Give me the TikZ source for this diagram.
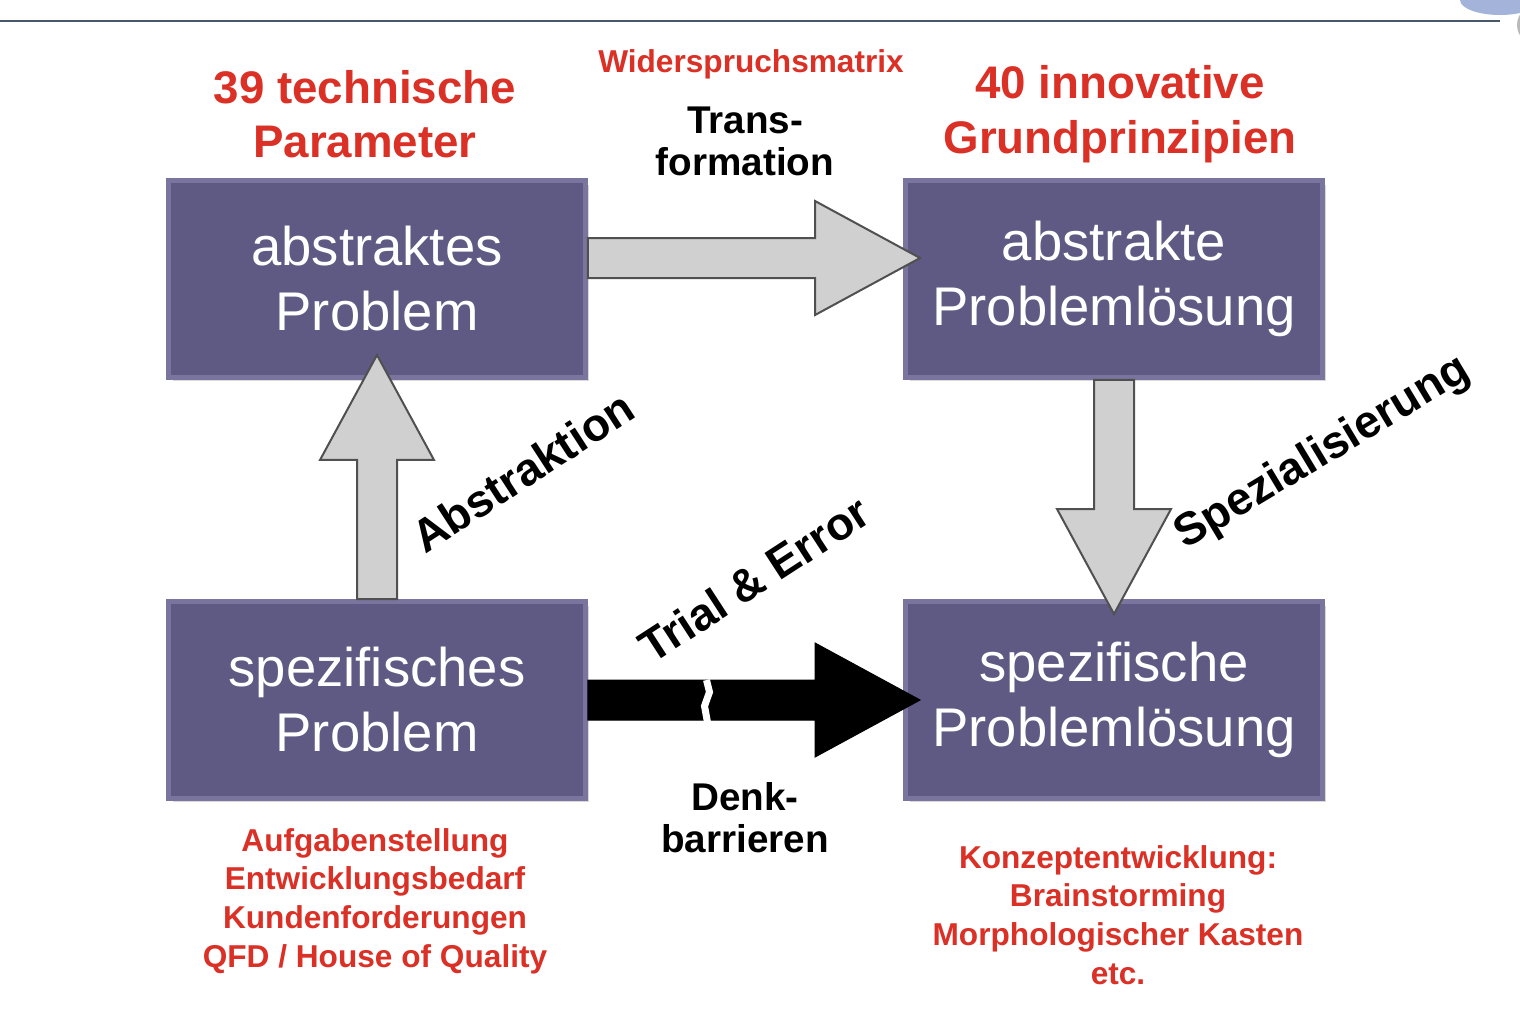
\documentclass[tikz,border=0pt]{standalone}
\usepackage{fontspec}
\setmainfont{Liberation Sans}
\usetikzlibrary{calc,shadows}
\definecolor{boxfill}{RGB}{95,90,132}
\definecolor{boxedge}{RGB}{122,117,158}
\definecolor{arrowgray}{RGB}{208,208,208}
\definecolor{arrowedge}{RGB}{80,80,80}
\definecolor{labelred}{RGB}{218,48,38}
\definecolor{rulecol}{RGB}{70,88,105}
\definecolor{logoblue}{RGB}{70,100,180}

% fat arrow from #2 to tip #3
\newcommand{\blockarrow}[3][]{%
  \coordinate (bahead) at ($(#3)!2.1cm!(#2)$);
  \draw[#1] ($(#2)!0.4cm!90:(#3)$) -- ($(bahead)!0.4cm!90:(#3)$)
    -- ($(bahead)!1.14cm!90:(#3)$) -- (#3) -- ($(bahead)!1.14cm!-90:(#3)$)
    -- ($(bahead)!0.4cm!-90:(#3)$) -- ($(#2)!0.4cm!-90:(#3)$) -- cycle;}

\tikzset{
  box/.style={draw=boxedge, line width=0.1cm, fill=boxfill, text=white,
    minimum width=8.34cm, minimum height=3.94cm, align=center,
    font=\fontsize{31}{37}\selectfont,
    drop shadow={shadow xshift=0.08cm, shadow yshift=-0.08cm, opacity=0.3}},
  grayarrow/.style={fill=arrowgray, draw=arrowedge, line width=0.04cm},
  blackarrow/.style={fill=black, draw=black, line width=0.02cm},
  headlabel/.style={text=labelred, align=center, font=\bfseries\fontsize{26}{31}\selectfont},
  notelabel/.style={text=labelred, align=center, font=\bfseries\fontsize{18}{22}\selectfont},
  steplabel/.style={align=center, font=\bfseries\fontsize{22}{24}\selectfont},
  turnlabel/.style={anchor=base west, font=\bfseries\fontsize{26}{31}\selectfont},
}

\begin{document}
\begin{tikzpicture}[x=0.02cm, y=-0.02cm]
  \useasboundingbox (0,0) rectangle (1520,1018);
  \draw[rulecol, line width=0.05cm] (0,21) -- (1500,21);
  \fill[logoblue!70, opacity=0.7] (1500,0) ellipse (0.8cm and 0.3cm);
  \fill[gray!55] (1537,25) circle (0.4cm);

  \node[box] (absprob) at (377,279) {abstraktes\\Problem};
  \node[box] (abslsg) at (1114,279) {abstrakte\\Problemlösung};
  \node[box] (specprob) at (377,700) {spezifisches\\Problem};
  \node[box] (speclsg) at (1114,700) {spezifische\\Problemlösung};

  \coordinate (trA) at ($(absprob.east)+(0,-21)$);
  \coordinate (trB) at ($(abslsg.west)+(17,-21)$);
  \blockarrow[grayarrow]{trA}{trB}

  \coordinate (abB) at ($(absprob.south)+(0,-25)$);
  \blockarrow[grayarrow]{specprob.north}{abB}

  \coordinate (spB) at ($(speclsg.north)+(0,15)$);
  \blockarrow[grayarrow]{abslsg.south}{spB}

  \coordinate (teB) at ($(speclsg.west)+(17,0)$);
  \blockarrow[blackarrow]{specprob.east}{teB}
  \coordinate (brk) at ($(specprob.east)!0.36!(teB)$);
  \draw[white, line width=0.14cm] ($(brk)+(-1,-20)$) -- ($(brk)+(2,-8)$)
    -- ($(brk)+(-3,6)$) -- ($(brk)+(1,28)$);

  \node[headlabel] (techpar) at (365,114) {39 technische\\Parameter};
  \node[headlabel] (innopr) at (1120,114) {40 innovative\\Grundprinzipien};
  \node[notelabel] (matrix) at (751,64) {Widerspruchsmatrix};
  \node[steplabel] (trans) at (745,141) {Trans-\\formation};
  \node[steplabel] (denk) at (745,818) {Denk-\\barrieren};

  \node[turnlabel, rotate=33] (abstr) at (420,558) {Abstraktion};
  \node[turnlabel, rotate=31] (spez) at (1180,553) {Spezialisierung};
  \node[turnlabel, rotate=33] (trial) at (647,668) {Trial \& Error};

  \node[notelabel] (tasks) at (375,901) {Aufgabenstellung\\Entwicklungsbedarf\\Kundenforderungen\\QFD / House of Quality};
  \node[notelabel] (concept) at (1118,915) {Konzeptentwicklung:\\Brainstorming\\Morphologischer Kasten\\etc.};
\end{tikzpicture}
\end{document}
